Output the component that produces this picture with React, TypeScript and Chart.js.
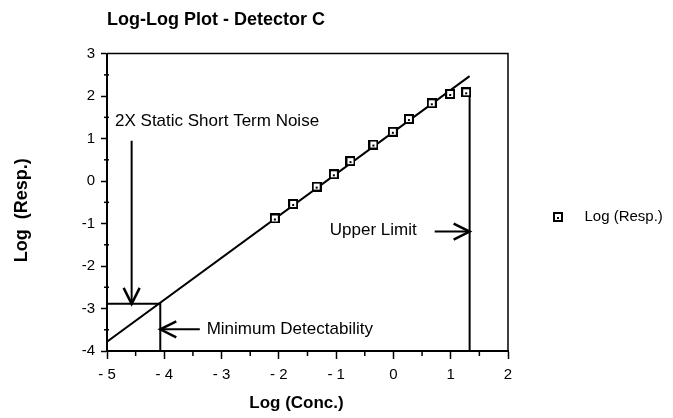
import React, { useEffect, useRef } from 'react';
import { Chart, registerables } from 'chart.js';

Chart.register(...registerables);

// ---- data ----
const respX = [-2.07, -1.75, -1.34, -1.04, -0.75, -0.35, -0.01, 0.27, 0.67, 0.99, 1.27];
const respY = [-0.88, -0.54, -0.13, 0.16, 0.47, 0.86, 1.16, 1.46, 1.83, 2.05, 2.09];

const fitX = [-5, 1.33];
const fitY = [-3.78, 2.47];

const minDetX = [-5, -4.07, -4.07];
const minDetY = [-2.89, -2.89, -4];

const noiseX = [-4.57, -4.57];
const noiseY = [0.95, -2.89];

const upperX = [1.33, 1.33];
const upperY = [2.12, -4];

const upperArrowX = [0.72, 1.33];
const upperArrowY = [-1.19, -1.19];

const minArrowX = [-3.38, -4.07];
const minArrowY = [-3.49, -3.49];

const arrowTipX = [-4.57, 1.33, -4.07];
const arrowTipY = [-2.89, -1.19, -3.49];
const arrowDir = ['down', 'right', 'left'];

const noteTexts = ['2X Static Short Term Noise', 'Upper Limit', 'Minimum Detectability'];
const noteX = [-4.86, -1.11, -3.26];
const noteY = [1.4, -1.15, -3.48];

const xTicks = [-5, -4, -3, -2, -1, 0, 1, 2];
const xTickLabels = ['- 5', '- 4', '- 3', '- 2', '- 1', '0', '1', '2'];
const yTicks = [-4, -3, -2, -1, 0, 1, 2, 3];
const yTickLabels = ['-4', '-3', '-2', '-1', '0', '1', '2', '3'];

const chartTitle = 'Log-Log Plot - Detector C';
const xTitle = 'Log (Conc.)';
const yTitle = 'Log  (Resp.)';
const seriesName = 'Log (Resp.)';

const FAMILY = '"Liberation Sans", Arial, Helvetica, sans-serif';

const pts = (xs: number[], ys: number[]) => xs.map((x, i) => ({ x, y: ys[i] }));

function makeMarker(w: number): HTMLCanvasElement {
  const c = document.createElement('canvas');
  c.width = w;
  c.height = 10;
  const g = c.getContext('2d')!;
  g.fillStyle = '#fff';
  g.fillRect(1, 1, 8, 8);
  g.strokeStyle = '#000';
  g.lineWidth = 2;
  g.strokeRect(1, 1, 8, 8);
  g.fillStyle = '#000';
  g.fillRect(4, 5, 2, 2);
  return c;
}

const decor = {
  id: 'decor',
  afterDatasetsDraw(chart: any) {
    const { ctx, chartArea: a, scales } = chart;
    const xs = scales.x;
    const ys = scales.y;
    ctx.save();
    ctx.strokeStyle = '#000';
    ctx.fillStyle = '#000';
    const seg = (x1: number, y1: number, x2: number, y2: number) => {
      ctx.beginPath();
      ctx.moveTo(x1, y1);
      ctx.lineTo(x2, y2);
      ctx.stroke();
    };
    // frame top & right
    ctx.lineWidth = 1.5;
    ctx.beginPath();
    ctx.moveTo(a.left, a.top);
    ctx.lineTo(a.right, a.top);
    ctx.lineTo(a.right, a.bottom);
    ctx.stroke();
    // minor ticks
    for (let i = 0; i < yTicks.length - 1; i++) {
      const py = ys.getPixelForValue((yTicks[i] + yTicks[i + 1]) / 2);
      seg(a.left - 3, py, a.left + 2, py);
    }
    for (let i = 0; i < xTicks.length - 1; i++) {
      const px = xs.getPixelForValue((xTicks[i] + xTicks[i + 1]) / 2);
      seg(px, a.bottom, px, a.bottom + 5);
    }
    // arrowheads
    ctx.lineWidth = 2.5;
    ctx.lineJoin = 'miter';
    arrowTipX.forEach((tx, i) => {
      const px = xs.getPixelForValue(tx);
      const py = ys.getPixelForValue(arrowTipY[i]);
      const L = 16, H = 8;
      ctx.beginPath();
      if (arrowDir[i] === 'down') {
        ctx.moveTo(px - H, py - L); ctx.lineTo(px, py); ctx.lineTo(px + H, py - L);
      } else if (arrowDir[i] === 'right') {
        ctx.moveTo(px - L, py - H); ctx.lineTo(px, py); ctx.lineTo(px - L, py + H);
      } else {
        ctx.moveTo(px + L, py - H); ctx.lineTo(px, py); ctx.lineTo(px + L, py + H);
      }
      ctx.stroke();
    });
    // notes
    ctx.font = `17px ${FAMILY}`;
    ctx.textAlign = 'left';
    ctx.textBaseline = 'middle';
    noteTexts.forEach((t, i) => {
      ctx.fillText(t, xs.getPixelForValue(noteX[i]), ys.getPixelForValue(noteY[i]));
    });
    // axis titles
    ctx.font = `bold 17px ${FAMILY}`;
    ctx.textAlign = 'center';
    ctx.fillText(xTitle, (a.left + a.right) / 2 - 11, chart.height - 15);
    ctx.save();
    ctx.font = `bold 18px ${FAMILY}`;
    ctx.translate(22, (a.top + a.bottom) / 2 + 8);
    ctx.rotate(-Math.PI / 2);
    ctx.fillText(yTitle, 0, 0);
    ctx.restore();
    ctx.restore();
  },
};

export default function App() {
  const ref = useRef<HTMLCanvasElement>(null);
  useEffect(() => {
    const canvas = ref.current!;
    const marker = makeMarker(10);
    const legendMarker = makeMarker(24);
    const legendFont = `normal normal 15px ${FAMILY}`;
    const m = document.createElement('canvas').getContext('2d')!;
    m.font = legendFont;
    const textW = m.measureText(seriesName).width;
    const padRight = Math.max(0, 78.5 - textW);

    const lineDs = (xs: number[], ys: number[]) => ({
      label: '',
      data: pts(xs, ys),
      showLine: true,
      borderColor: '#000',
      borderWidth: 2,
      pointRadius: 0,
      fill: false,
      tension: 0,
    });

    const chart = new Chart(canvas, {
      type: 'scatter',
      data: {
        datasets: [
          {
            label: seriesName,
            data: pts(respX, respY),
            pointStyle: marker as any,
            pointRadius: 5,
            showLine: false,
            borderColor: '#000',
            backgroundColor: '#fff',
          },
          lineDs(fitX, fitY),
          lineDs(minDetX, minDetY),
          lineDs(noiseX, noiseY),
          lineDs(upperX, upperY),
          lineDs(upperArrowX, upperArrowY),
          lineDs(minArrowX, minArrowY),
        ] as any,
      },
      options: {
        animation: false,
        responsive: true,
        maintainAspectRatio: false,
        events: [],
        layout: { padding: { top: 0, left: 0, bottom: 0, right: padRight } },
        plugins: {
          title: {
            display: true,
            text: chartTitle,
            align: 'start',
            fullSize: false,
            color: '#000',
            font: { family: FAMILY, size: 18, weight: 'bold' },
            padding: { top: 9, bottom: 23 },
          },
          legend: {
            position: 'right',
            align: 'center',
            title: { display: true, text: ' ', padding: 0, font: { family: FAMILY, size: 10, lineHeight: '16px' } },
            labels: {
              usePointStyle: true,
              pointStyleWidth: 24,
              padding: 45,
              color: '#000',
              font: { family: FAMILY, size: 15 },
              generateLabels: (c: any) => {
                const items = (Chart.defaults.plugins.legend.labels as any).generateLabels(c);
                return items
                  .filter((it: any) => it.datasetIndex === 0)
                  .map((it: any) => ({ ...it, pointStyle: legendMarker, fontColor: '#000' }));
              },
            },
          },
          tooltip: { enabled: false },
        },
        scales: {
          x: {
            type: 'linear',
            min: xTicks[0],
            max: xTicks[xTicks.length - 1],
            afterFit: (s: any) => { s.height = 67; },
            afterBuildTicks: (s: any) => { s.ticks = xTicks.map((v) => ({ value: v })); },
            ticks: {
              padding: 7,
              color: '#000',
              font: { family: FAMILY, size: 15 },
              callback: (v: any) => xTickLabels[xTicks.indexOf(Number(v))] ?? '',
            },
            grid: { drawOnChartArea: false, tickLength: 8, tickColor: '#000', tickWidth: 1.5 },
            border: { color: '#000', width: 2 },
          },
          y: {
            type: 'linear',
            min: yTicks[0],
            max: yTicks[yTicks.length - 1],
            afterFit: (s: any) => { s.width = 107; },
            afterBuildTicks: (s: any) => { s.ticks = yTicks.map((v) => ({ value: v })); },
            ticks: {
              padding: 6,
              color: '#000',
              font: { family: FAMILY, size: 15 },
              callback: (v: any) => yTickLabels[yTicks.indexOf(Number(v))] ?? '',
            },
            grid: { drawOnChartArea: false, tickLength: 6, tickColor: '#000', tickWidth: 1.5 },
            border: { color: '#000', width: 2 },
          },
        },
      } as any,
      plugins: [decor],
    });
    return () => chart.destroy();
  }, []);

  return (
    <div style={{ position: 'fixed', left: 0, top: 0, width: 673, height: 418, background: '#fff' }}>
      <canvas ref={ref} />
    </div>
  );
}
